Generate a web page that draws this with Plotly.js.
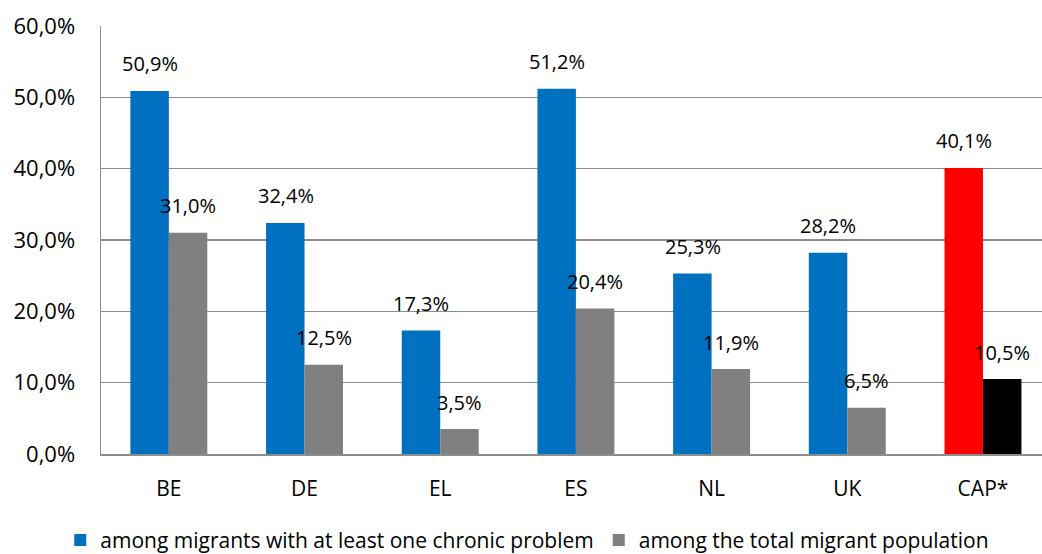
<!DOCTYPE html>
<html>
<head>
<meta charset="utf-8">
<script src="https://cdn.plot.ly/plotly-3.0.1.min.js"></script>
<style>
html,body{margin:0;padding:0;background:#fff;overflow:hidden;}
#chart{width:1042px;height:554px;}
</style>
</head>
<body>
<div id="chart"></div>
<script>
const categories = ['BE', 'DE', 'EL', 'ES', 'NL', 'UK', 'CAP*'];
const chronicValues = [50.9, 32.4, 17.3, 51.2, 25.3, 28.2, 40.1];
const totalValues = [31.0, 12.5, 3.5, 20.4, 11.9, 6.5, 10.5];
const seriesNames = ['among migrants with at least one chronic problem', 'among the total migrant population'];
const yTicks = [0, 10, 20, 30, 40, 50, 60];

const FONT = '"Open Sans", Lato, sans-serif';
const fmt = v => v.toFixed(1).replace('.', ',') + '%';

const chronicColors = categories.map(c => c === 'CAP*' ? '#FF0000' : '#0070C0');
const totalColors = categories.map(c => c === 'CAP*' ? '#000000' : '#808080');

const traces = [
  {type: 'bar', name: seriesNames[0], x: categories, y: chronicValues,
   marker: {color: chronicColors}, hoverinfo: 'skip'},
  {type: 'bar', name: seriesNames[1], x: categories, y: totalValues,
   marker: {color: totalColors}, hoverinfo: 'skip'}
];

const annotations = [];
categories.forEach((c, i) => {
  annotations.push({x: c, y: chronicValues[i], text: fmt(chronicValues[i]), showarrow: false,
    xshift: -19, yshift: 27, font: {family: FONT, size: 20, color: '#000'}});
  annotations.push({x: c, y: totalValues[i], text: fmt(totalValues[i]), showarrow: false,
    xshift: 19, yshift: 27, font: {family: FONT, size: 20, color: '#000'}});
});

const layout = {
  width: 1042, height: 554,
  margin: {l: 101, r: 0, t: 26, b: 100, autoexpand: false},
  paper_bgcolor: '#fff', plot_bgcolor: '#fff',
  font: {family: FONT, size: 20, color: '#000'},
  barmode: 'group', bargap: 0.433, bargroupgap: 0,
  showlegend: true,
  legend: {orientation: 'h', x: 0.453, xanchor: 'center', y: -0.202, yanchor: 'middle',
    font: {family: FONT, size: 21, color: '#000'}, itemwidth: 30, traceorder: 'normal'},
  xaxis: {type: 'category', range: [-0.5, 6.435], showgrid: false, zeroline: false,
    showline: true, linecolor: '#8c8c8c', linewidth: 1.5, ticks: '', ticklabelstandoff: 15,
    tickfont: {family: FONT, size: 21}, automargin: false},
  yaxis: {range: [0, 60], tickvals: yTicks, ticktext: yTicks.map(fmt), showgrid: true,
    gridcolor: '#8c8c8c', gridwidth: 1.5, zeroline: false, showline: true,
    linecolor: '#8c8c8c', linewidth: 1.5, ticks: '', ticklabelstandoff: 20,
    tickfont: {family: FONT, size: 22}, automargin: false},
  annotations: annotations
};

Plotly.newPlot('chart', traces, layout, {displayModeBar: false, staticPlot: true});
</script>
</body>
</html>
